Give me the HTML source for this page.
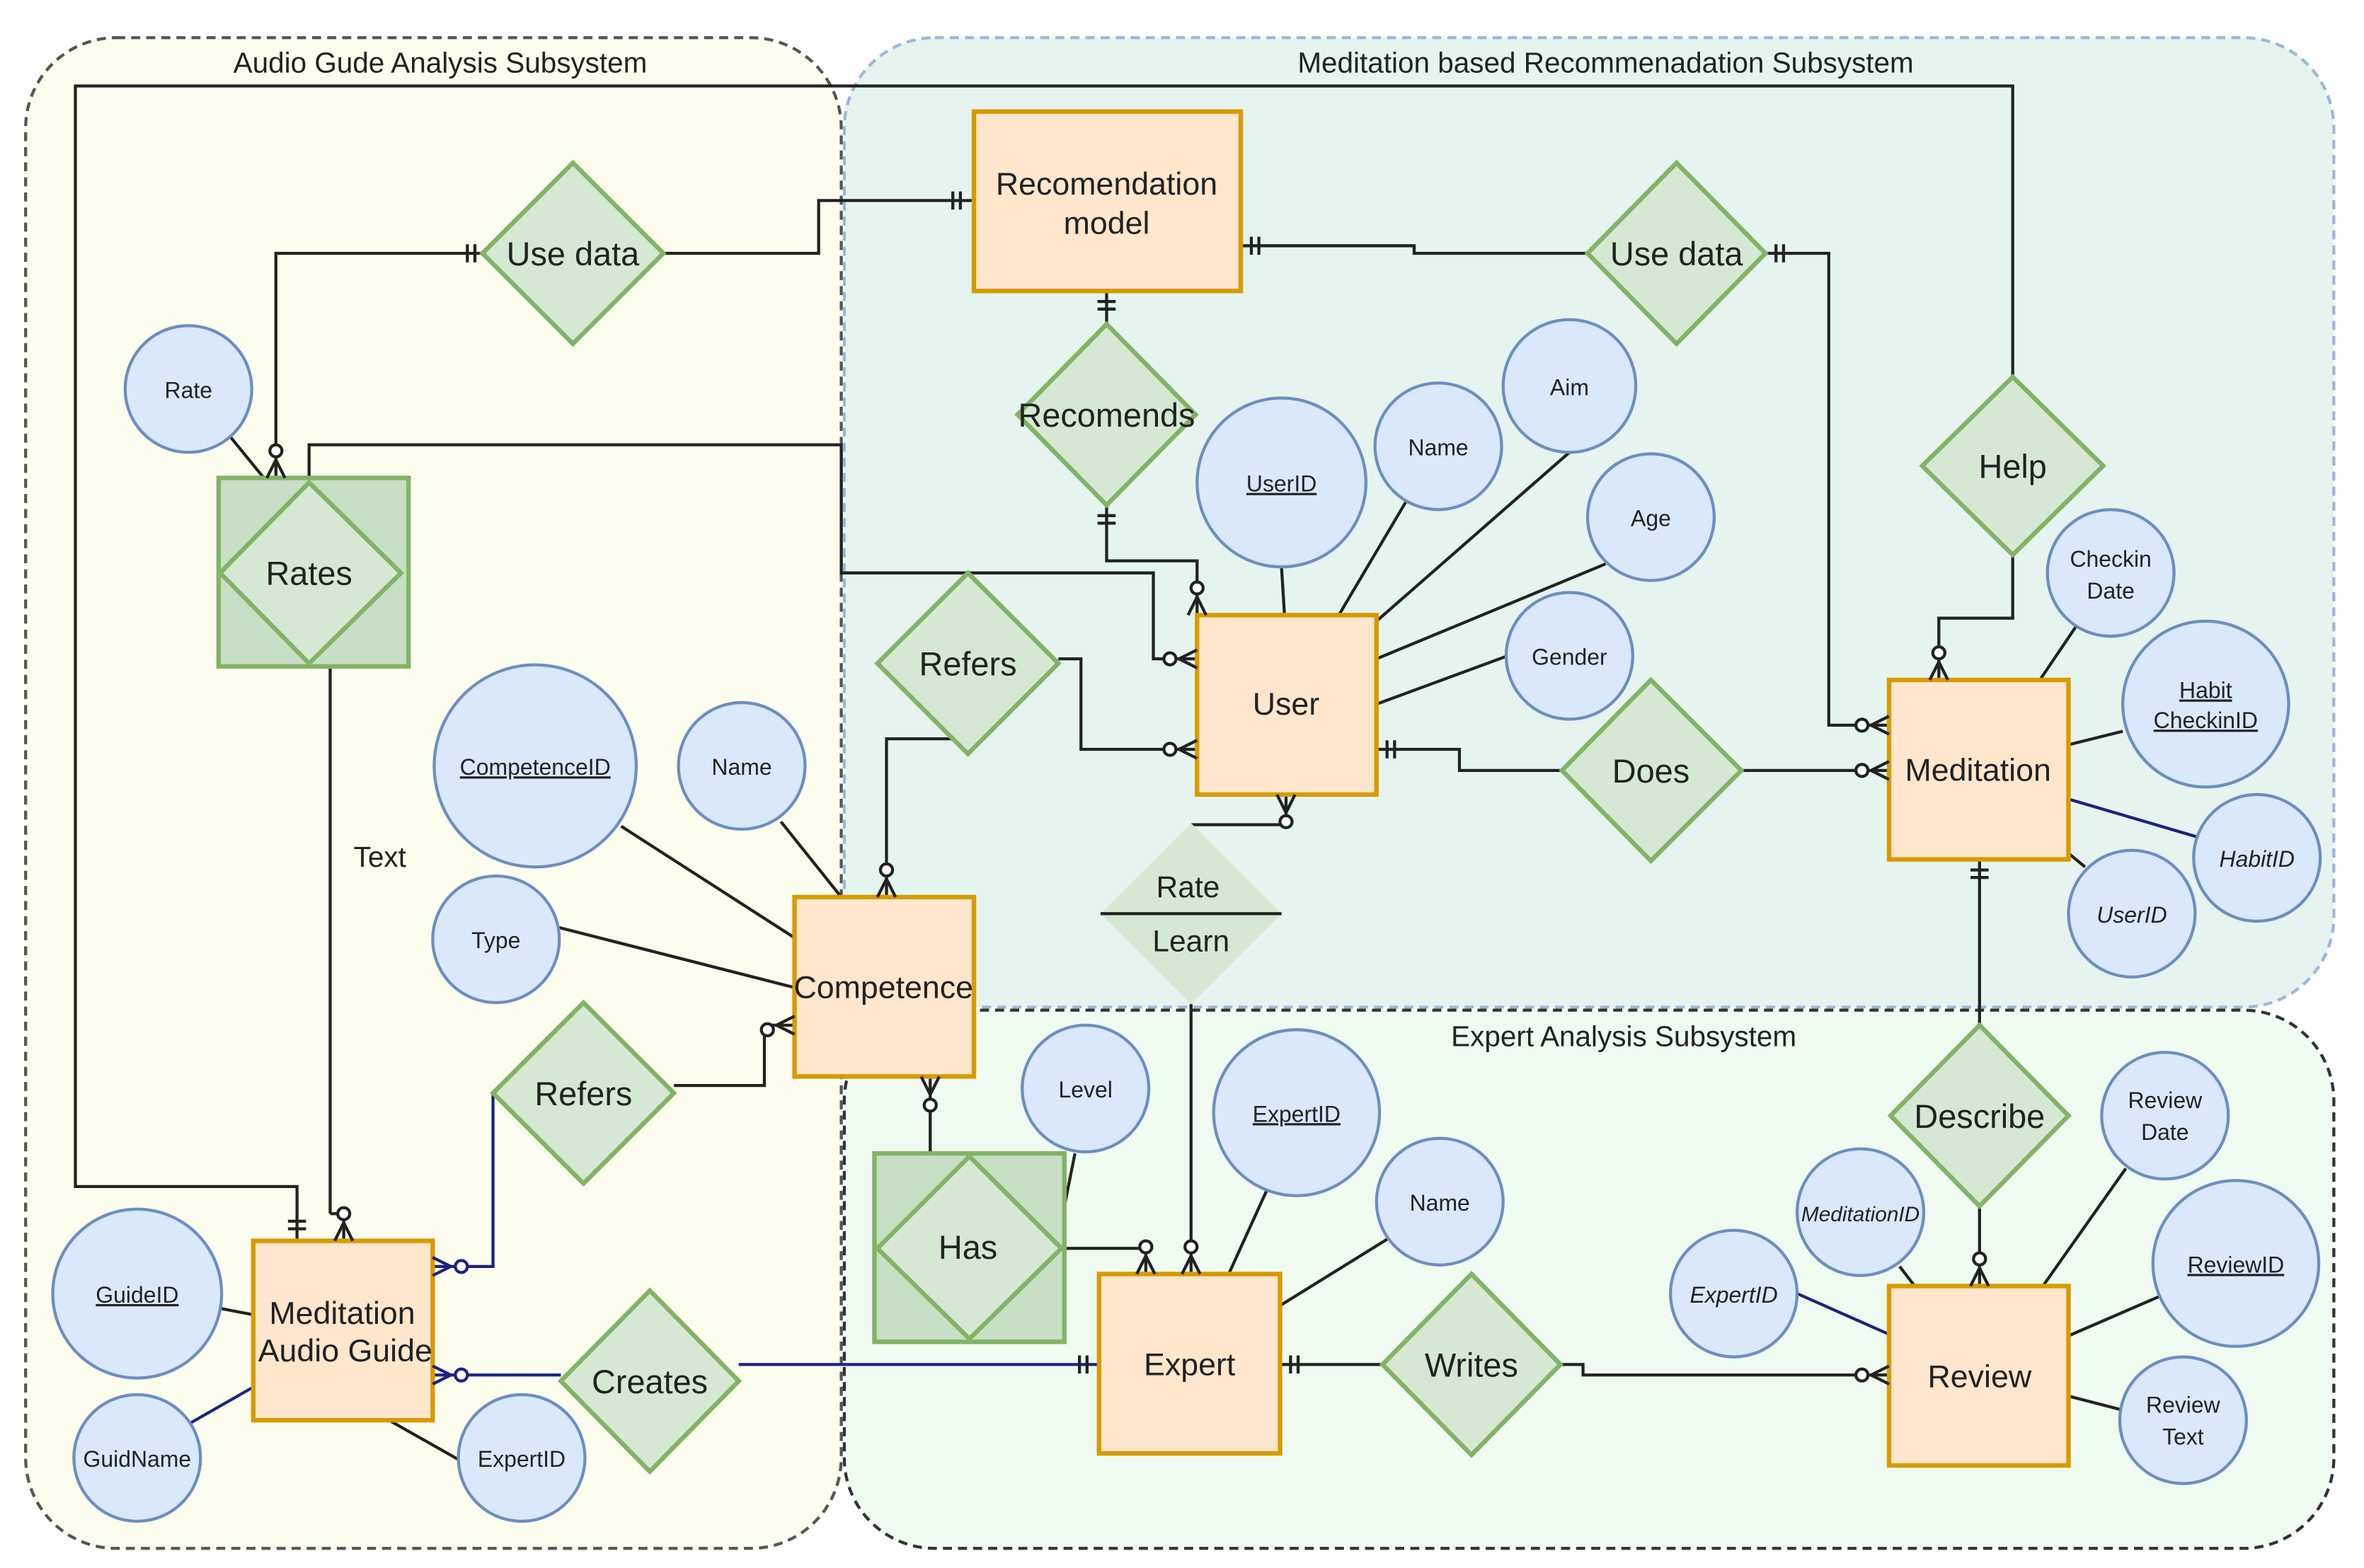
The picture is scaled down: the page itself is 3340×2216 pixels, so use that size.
<!DOCTYPE html>
<html><head><meta charset="utf-8"><style>
html,body{margin:0;padding:0;background:#fff;}
svg{display:block;}
text{font-family:"Liberation Sans",Arial,sans-serif;fill:#222;}
</style></head><body>
<svg width="3340" height="2216" viewBox="0 0 1568 1040" preserveAspectRatio="none" xmlns="http://www.w3.org/2000/svg">
<rect x="0" y="0" width="1568" height="1040" fill="#fff"/>
<rect x="17" y="25" width="541" height="1002" rx="60" fill="#fdfdee" stroke="#555" stroke-width="2" stroke-dasharray="6,4"/>
<rect x="560" y="25" width="988" height="643" rx="60" fill="#e5f4ef" stroke="#9ab8d8" stroke-width="2" stroke-dasharray="6,4"/>
<rect x="560" y="670" width="988" height="357" rx="60" fill="#effbf0" stroke="#333" stroke-width="2" stroke-dasharray="6,4"/>
<text x="292" y="48" font-size="19" text-anchor="middle">Audio Gude Analysis Subsystem</text>
<text x="1065" y="48" font-size="19" text-anchor="middle">Meditation based Recommenadation Subsystem</text>
<text x="1077" y="694" font-size="19" text-anchor="middle">Expert Analysis Subsystem</text>

<g fill="none" stroke="#222" stroke-width="2">
<polyline points="440,168 543,168 543,133 646,133"/>
<polyline points="320,168 183,168 183,317"/>
<polyline points="1335,250 1335,57 50,57 50,787 197,787 197,823"/>
<polyline points="1335,368 1335,410 1286,410 1286,451"/>
<polyline points="823,163 938,163 938,168 1053,168"/>
<polyline points="1171,168 1213,168 1213,481 1253,481"/>
<line x1="734" y1="193" x2="734" y2="215"/>
<polyline points="734,335 734,372 794,372 794,408"/>
<polyline points="205,317 205,295 558,295 558,380 765,380 765,437 794,437"/>
<polyline points="702,437 717,437 717,497 794,497"/>
<polyline points="636,490 588,490 588,595"/>
<polyline points="913,497 968,497 968,511 1036,511"/>
<line x1="1155" y1="511" x2="1253" y2="511"/>
<polyline points="790,547 853,547 853,527"/>
<line x1="790" y1="666" x2="790" y2="845"/>
<line x1="1313" y1="570" x2="1313" y2="680"/>
<line x1="1313" y1="800" x2="1313" y2="853"/>
<line x1="219" y1="442" x2="219" y2="805"/>
<polyline points="219,805 228,805 228,823"/>
<polyline points="527,680 507,680 507,720 447,720"/>
<line x1="617" y1="714" x2="617" y2="765"/>
<polyline points="706,828 760,828 760,845"/>
<line x1="713" y1="765" x2="706" y2="800"/>
<line x1="849" y1="905" x2="917" y2="905"/>
<polyline points="1035,905 1050,905 1050,912 1253,912"/>
</g>
<g fill="none" stroke="#1a237e" stroke-width="2">
<polyline points="327,725 327,840 287,840"/>
<line x1="490" y1="905" x2="729" y2="905"/>
<polyline points="372,912 287,912"/>
<line x1="1372" y1="530" x2="1457" y2="555"/>
<line x1="1192" y1="858" x2="1253" y2="885"/>
<line x1="126" y1="944" x2="168" y2="920"/>
</g>
<g stroke="#222" stroke-width="2">
<line x1="153" y1="290" x2="175" y2="317"/>
<line x1="850" y1="376" x2="852" y2="408"/>
<line x1="933" y1="332" x2="888" y2="408"/>
<line x1="1041" y1="300" x2="913" y2="412"/>
<line x1="1065" y1="374" x2="913" y2="437"/>
<line x1="1000" y1="435" x2="913" y2="467"/>
<line x1="1378" y1="414" x2="1353" y2="451"/>
<line x1="1408" y1="485" x2="1372" y2="494"/>
<line x1="1383" y1="575" x2="1372" y2="566"/>
<line x1="412" y1="548" x2="527" y2="622"/>
<line x1="518" y1="545" x2="558" y2="595"/>
<line x1="370" y1="615" x2="527" y2="655"/>
<line x1="840" y1="790" x2="815" y2="845"/>
<line x1="920" y1="822" x2="849" y2="866"/>
<line x1="147" y1="868" x2="168" y2="872"/>
<line x1="304" y1="968" x2="258" y2="942"/>
<line x1="1260" y1="840" x2="1270" y2="853"/>
<line x1="1410" y1="775" x2="1355" y2="853"/>
<line x1="1432" y1="860" x2="1372" y2="886"/>
<line x1="1407" y1="935" x2="1372" y2="926"/>
</g>

<g fill="#ffe6cc" stroke="#d79b00" stroke-width="3">
<rect x="646" y="74" width="177" height="119"/>
<rect x="794" y="408" width="119" height="119"/>
<rect x="1253" y="451" width="119" height="119"/>
<rect x="527" y="595" width="119" height="119"/>
<rect x="168" y="823" width="119" height="119"/>
<rect x="729" y="845" width="120" height="119"/>
<rect x="1253" y="853" width="119" height="119"/>
</g>
<g font-size="21" text-anchor="middle">
<text x="734" y="129">Recomendation</text><text x="734" y="155">model</text>
<text x="853" y="474">User</text>
<text x="1312" y="518">Meditation</text>
<text x="586" y="662">Competence</text>
<text x="227" y="878">Meditation</text><text x="229" y="903">Audio Guide</text>
<text x="789" y="912">Expert</text>
<text x="1313" y="920">Review</text>
</g>
<g fill="#c7dfc5" stroke="#82b366" stroke-width="3">
<rect x="145" y="317" width="126" height="125"/>
<rect x="580" y="765" width="126" height="125"/>
</g>
<g fill="#d5e8d4" stroke="#82b366" stroke-width="3">
<polygon points="205,320 266,380 205,440 146,380"/>
<polygon points="643,767 704,828 643,888 582,828"/>
<polygon points="380,108 440,168 380,228 320,168"/>
<polygon points="1112,108 1171,168 1112,228 1053,168"/>
<polygon points="734,215 793,275 734,335 675,275"/>
<polygon points="1335,250 1395,309 1335,368 1275,309"/>
<polygon points="642,380 702,440 642,500 582,440"/>
<polygon points="1095,451 1155,511 1095,571 1036,511"/>
<polygon points="387,665 447,725 387,785 327,725"/>
<polygon points="431,856 490,916 431,976 372,916"/>
<polygon points="976,845 1035,905 976,965 917,905"/>
<polygon points="1313,680 1372,740 1313,800 1254,740"/>
</g>
<polygon points="790,546 850,606 790,666 730,606" fill="#d5e8d4"/>
<line x1="730" y1="606" x2="850" y2="606" stroke="#222" stroke-width="2"/>
<g font-size="22" text-anchor="middle">
<text x="205" y="388">Rates</text>
<text x="642" y="835">Has</text>
<text x="380" y="176">Use data</text>
<text x="1112" y="176">Use data</text>
<text x="734" y="283">Recomends</text>
<text x="1335" y="317">Help</text>
<text x="642" y="448">Refers</text>
<text x="1095" y="519">Does</text>
<text x="387" y="733">Refers</text>
<text x="431" y="924">Creates</text>
<text x="976" y="913">Writes</text>
<text x="1313" y="748">Describe</text>
<text x="788" y="595" font-size="20">Rate</text>
<text x="790" y="631" font-size="20">Learn</text>
<text x="252" y="575" font-size="19">Text</text>
</g>

<g fill="#dae8fc" stroke="#6c8ebf" stroke-width="2">
<circle cx="125" cy="258" r="42"/>
<circle cx="850" cy="320" r="56"/>
<circle cx="954" cy="296" r="42"/>
<circle cx="1041" cy="256" r="44"/>
<circle cx="1095" cy="343" r="42"/>
<circle cx="1041" cy="435" r="42"/>
<circle cx="1400" cy="380" r="42"/>
<circle cx="1463" cy="467" r="55"/>
<circle cx="1497" cy="569" r="42"/>
<circle cx="1414" cy="606" r="42"/>
<circle cx="355" cy="508" r="67"/>
<circle cx="492" cy="508" r="42"/>
<circle cx="329" cy="623" r="42"/>
<circle cx="720" cy="722" r="42"/>
<circle cx="860" cy="738" r="55"/>
<circle cx="955" cy="797" r="42"/>
<circle cx="91" cy="858" r="56"/>
<circle cx="91" cy="967" r="42"/>
<circle cx="346" cy="967" r="42"/>
<circle cx="1234" cy="804" r="42"/>
<circle cx="1150" cy="858" r="42"/>
<circle cx="1436" cy="740" r="42"/>
<circle cx="1483" cy="838" r="55"/>
<circle cx="1448" cy="942" r="42"/>
</g>
<g font-size="15" text-anchor="middle">
<text x="125" y="264">Rate</text>
<text x="850" y="326" text-decoration="underline">UserID</text>
<text x="954" y="302">Name</text>
<text x="1041" y="262">Aim</text>
<text x="1095" y="349">Age</text>
<text x="1041" y="441">Gender</text>
<text x="1400" y="376">Checkin</text><text x="1400" y="397">Date</text>
<text x="1463" y="463" text-decoration="underline">Habit</text><text x="1463" y="483" text-decoration="underline">CheckinID</text>
<text x="1497" y="575" font-style="italic">HabitID</text>
<text x="1414" y="612" font-style="italic">UserID</text>
<text x="355" y="514" text-decoration="underline">CompetenceID</text>
<text x="492" y="514">Name</text>
<text x="329" y="629">Type</text>
<text x="720" y="728">Level</text>
<text x="860" y="744" text-decoration="underline">ExpertID</text>
<text x="955" y="803">Name</text>
<text x="91" y="864" text-decoration="underline">GuideID</text>
<text x="91" y="973">GuidName</text>
<text x="346" y="973">ExpertID</text>
<text x="1234" y="810" font-style="italic" font-size="14">MeditationID</text>
<text x="1150" y="864" font-style="italic">ExpertID</text>
<text x="1436" y="735">Review</text><text x="1436" y="756">Date</text>
<text x="1483" y="844" text-decoration="underline">ReviewID</text>
<text x="1448" y="937">Review</text><text x="1448" y="958">Text</text>
</g>

<g stroke="#222" stroke-width="2">
<line x1="632" y1="127" x2="632" y2="139"/><line x1="637" y1="127" x2="637" y2="139"/>
<line x1="310" y1="162" x2="310" y2="174"/><line x1="315" y1="162" x2="315" y2="174"/>
<line x1="830" y1="157" x2="830" y2="169"/><line x1="835" y1="157" x2="835" y2="169"/>
<line x1="1178" y1="162" x2="1178" y2="174"/><line x1="1183" y1="162" x2="1183" y2="174"/>
<line x1="728" y1="200" x2="740" y2="200"/><line x1="728" y1="205" x2="740" y2="205"/>
<line x1="728" y1="342" x2="740" y2="342"/><line x1="728" y1="347" x2="740" y2="347"/>
<line x1="920" y1="491" x2="920" y2="503"/><line x1="925" y1="491" x2="925" y2="503"/>
<line x1="1307" y1="577" x2="1319" y2="577"/><line x1="1307" y1="582" x2="1319" y2="582"/>
<line x1="191" y1="810" x2="203" y2="810"/><line x1="191" y1="815" x2="203" y2="815"/>
<line x1="716" y1="899" x2="716" y2="911"/><line x1="721" y1="899" x2="721" y2="911"/>
<line x1="856" y1="899" x2="856" y2="911"/><line x1="861" y1="899" x2="861" y2="911"/>
</g>
<g stroke="#222" stroke-width="2" fill="#fff">
<path d="M177,317 L183,305 L189,317" fill="none"/><circle cx="183" cy="299" r="4"/>
<path d="M1280,451 L1286,439 L1292,451" fill="none"/><circle cx="1286" cy="433" r="4"/>
<path d="M1253,475 L1241,481 L1253,487" fill="none"/><circle cx="1235" cy="481" r="4"/>
<path d="M788,408 L794,396 L800,408" fill="none"/><circle cx="794" cy="390" r="4"/>
<path d="M794,431 L782,437 L794,443" fill="none"/><circle cx="776" cy="437" r="4"/>
<path d="M794,491 L782,497 L794,503" fill="none"/><circle cx="776" cy="497" r="4"/>
<path d="M582,595 L588,583 L594,595" fill="none"/><circle cx="588" cy="577" r="4"/>
<path d="M1253,505 L1241,511 L1253,517" fill="none"/><circle cx="1235" cy="511" r="4"/>
<path d="M847,527 L853,539 L859,527" fill="none"/><circle cx="853" cy="545" r="4"/>
<path d="M784,845 L790,833 L796,845" fill="none"/><circle cx="790" cy="827" r="4"/>
<path d="M754,845 L760,833 L766,845" fill="none"/><circle cx="760" cy="827" r="4"/>
<path d="M1307,853 L1313,841 L1319,853" fill="none"/><circle cx="1313" cy="835" r="4"/>
<path d="M222,823 L228,811 L234,823" fill="none"/><circle cx="228" cy="805" r="4"/>
<path d="M527,674 L515,680 L527,686" fill="none"/><circle cx="509" cy="683" r="4"/>
<path d="M611,714 L617,726 L623,714" fill="none"/><circle cx="617" cy="733" r="4"/>
<path d="M1253,906 L1241,912 L1253,918" fill="none"/><circle cx="1235" cy="912" r="4"/>
</g>
<g stroke="#1a237e" stroke-width="2" fill="#fff">
<path d="M287,834 L299,840 L287,846" fill="none"/><circle cx="306" cy="840" r="4"/>
<path d="M287,906 L299,912 L287,918" fill="none"/><circle cx="306" cy="912" r="4"/>
</g>
</svg>
</body></html>
